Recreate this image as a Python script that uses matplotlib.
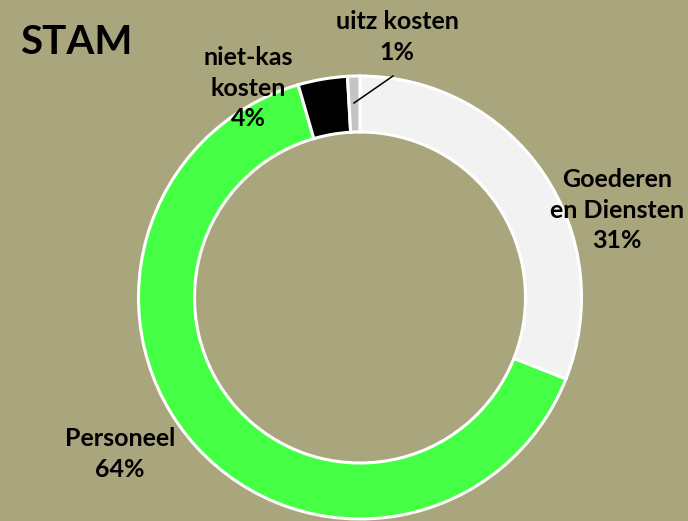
import matplotlib
matplotlib.use("Agg")
import matplotlib.pyplot as plt

categories = ["Goederen\nen Diensten", "Personeel", "niet-kas\nkosten", "uitz kosten"]
values = [31.0, 64.5, 3.6, 0.9]
pct_labels = ["31%", "64%", "4%", "1%"]
colors = ["#F2F2F2", "#44FF44", "#000000", "#C4C4C4"]
title = "STAM"

W, H = 688, 521
bg = "#A9A57D"
fig = plt.figure(figsize=(W / 100, H / 100), dpi=100, facecolor=bg)
ax = fig.add_axes([0, 0, 1, 1])
ax.set_facecolor(bg)

def py(y):
    return H - y

cx, cy, R = 360, 297.5, 221.5
ax.pie(values, colors=colors, startangle=90, counterclock=False,
       radius=R, center=(cx, py(cy)), frame=True,
       wedgeprops=dict(width=56, edgecolor="white", linewidth=2.2))
ax.set_xlim(0, W)
ax.set_ylim(0, H)
ax.set_aspect("equal")
ax.axis("off")

font = dict(family="Lato", fontweight="bold", fontsize=18, color="black",
            ha="center", va="center", linespacing=1.4)
label_pos = [(617, 210), (120, 454), (248, 88), (397, 37)]
for name, pct, (x, y) in zip(categories, pct_labels, label_pos):
    ax.text(x, py(y), f"{name}\n{pct}", **font)

ax.plot([393, 354], [py(76), py(103)], color="black", linewidth=1.1)

ax.text(20, py(42), title, family="Lato", fontweight="bold", fontsize=29,
        ha="left", va="center", color="black")

fig.savefig("out.png", dpi=100, facecolor=fig.get_facecolor())
